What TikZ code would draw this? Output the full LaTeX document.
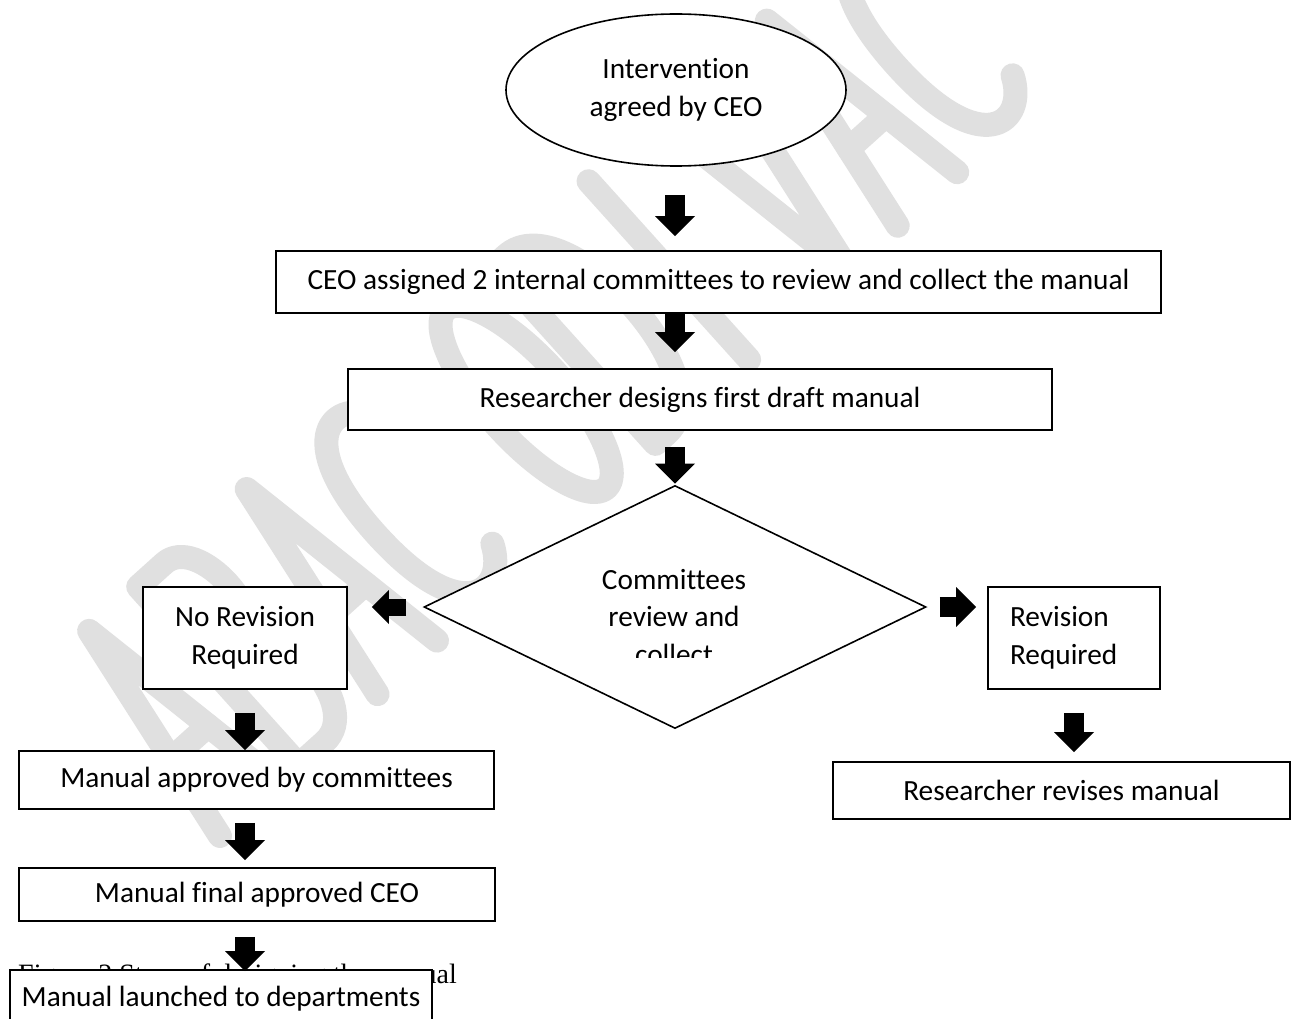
\documentclass[tikz,border=0pt]{standalone}
\usepackage{fontspec}
\setmainfont{Carlito}[Ligatures=NoCommon]
\newfontfamily\capfont{Liberation Serif}
\usetikzlibrary{shapes.geometric,arrows.meta,calc}
\begin{document}
\begin{tikzpicture}[x=1pt,y=-1pt,
  box/.style={draw, line width=1.8pt, fill=white, inner sep=0pt,
    font=\fontsize{29.3}{37.5}\selectfont, align=center},
  blk/.style={line width=20pt, -{Triangle[width=40pt,length=20pt,line width=0pt]}},
  blks/.style={line width=17pt, -{Triangle[width=34pt,length=17pt,line width=0pt]}},
  txt/.style={inner sep=0pt, font=\fontsize{29.3}{37.5}\selectfont, align=center},
  wm/.style={draw=black!12, line width=24pt, line cap=round, line join=round}]
\useasboundingbox (0,0) rectangle (1296,1019);
\fill[white] (0,0) rectangle (1296,1019);
% watermark strokes (drawn shapes)
\begin{scope}[shift={(220,836)}, rotate=42, wm]
  % A
  \draw (0,0) -- (40,-240) -- (80,0); \draw (15,-90) -- (65,-90);
  % B
  \begin{scope}[xshift=106pt]
    \draw (0,0) -- (0,-240) -- (35,-240) .. controls (80,-240) and (80,-125) .. (35,-125) -- (0,-125);
    \draw (35,-125) .. controls (88,-125) and (88,0) .. (35,0) -- (0,0);
  \end{scope}
  % A
  \begin{scope}[xshift=212pt]
    \draw (0,0) -- (40,-240) -- (80,0); \draw (15,-90) -- (65,-90);
  \end{scope}
  % C
  \begin{scope}[xshift=318pt]
    \draw (80,-205) .. controls (60,-250) and (0,-250) .. (0,-120) .. controls (0,10) and (60,10) .. (80,-35);
  \end{scope}
  % O
  \begin{scope}[xshift=480pt]
    \draw (40,-120) ellipse [x radius=40, y radius=120];
  \end{scope}
  % D
  \begin{scope}[xshift=586pt]
    \draw (0,0) -- (0,-240) -- (15,-240) .. controls (95,-240) and (95,0) .. (15,0) -- cycle;
  \end{scope}
  % I
  \begin{scope}[xshift=692pt]
    \draw (20,0) -- (20,-240);
  \end{scope}
  % V
  \begin{scope}[xshift=806pt]
    \draw (0,-240) -- (40,0) -- (80,-240);
  \end{scope}
  % A
  \begin{scope}[xshift=912pt]
    \draw (0,0) -- (40,-240) -- (80,0); \draw (15,-90) -- (65,-90);
  \end{scope}
  % C
  \begin{scope}[xshift=1018pt]
    \draw (80,-205) .. controls (60,-250) and (0,-250) .. (0,-120) .. controls (0,10) and (60,10) .. (80,-35);
  \end{scope}
\end{scope}
% caption (partly hidden by the last box, as in the source)
\node[anchor=base west, inner sep=0pt, font=\capfont\fontsize{28}{30}\selectfont] (cap) at (18,983) {Figure 2 Steps of designing the manual};
% shapes
\node[draw, ellipse, line width=1.6pt, fill=white, inner sep=0pt,
  minimum width=340pt, minimum height=152pt, font=\fontsize{29.3}{37.5}\selectfont, align=center]
  (ell) at (676,90) {Intervention\\agreed by CEO};
\node[box, minimum width=885pt, minimum height=62pt] (b1) at (718.5,282) {CEO assigned 2 internal committees to review and collect the manual};
\node[box, minimum width=704pt, minimum height=61pt] (b2) at (700,399.5) {Researcher designs first draft manual};
\node[draw, diamond, line width=1.6pt, fill=white, inner sep=0pt,
  minimum width=502pt, minimum height=243pt] (dia) at (675,607) {};
\begin{scope}
\clip (500,540) rectangle (850,657);
\node[txt] (diatxt) at (674,617) {Committees\\review and\\collect};
\end{scope}
\node[box, minimum width=204pt, minimum height=102pt] (nr) at (245,638) {No Revision\\Required};
\node[box, minimum height=102pt, text width=128pt, inner xsep=22pt, align=left] (rr) at (1074,638) {Revision\\Required};
\node[box, minimum width=457pt, minimum height=57pt] (rrm) at (1061.5,790.5) {Researcher revises manual};
\node[box, minimum width=475pt, minimum height=58pt] (ma) at (256.5,780) {Manual approved by committees};
\node[box, minimum width=476pt, minimum height=53pt] (mf) at (257,894.5) {Manual final approved CEO};
\node[box, minimum width=422pt, minimum height=58pt] (ml) at (221,999) {Manual launched to departments};
% block arrows
\draw[blk, shorten <=28pt, shorten >=14pt, xshift=-1pt] (ell.south -| dia.north) -- (b1.north -| dia.north);
\draw[blk, shorten >=16pt, xshift=-1pt] (b1.south -| dia.north) -- (b2.north -| dia.north);
\draw[blk, shorten <=16pt, shorten >=1pt, xshift=-1pt] (b2.south -| dia.north) -- (dia.north);
\draw[blks, shorten <=17pt, shorten >=24pt] (dia.west) -- (dia.west -| nr.east);
\draw[blk, shorten <=13pt, shorten >=11pt, yshift=-10pt] (dia.east) -- (dia.east -| rr.west);
\draw[blk, shorten <=23pt, shorten >=9pt, xshift=-5pt] (rr.south) -- (rr.south |- rrm.north);
\draw[blk, shorten <=23pt, xshift=3pt] (nr.south) -- (nr.south |- ma.north);
\draw[blk, shorten <=13pt, shorten >=7pt, xshift=3pt] (ma.south -| nr.south) -- (mf.north -| nr.south);
\draw[blk, shorten <=15pt, shorten >=-2pt, xshift=3pt] (mf.south -| nr.south) -- (ml.north -| nr.south);
\end{tikzpicture}
\end{document}
